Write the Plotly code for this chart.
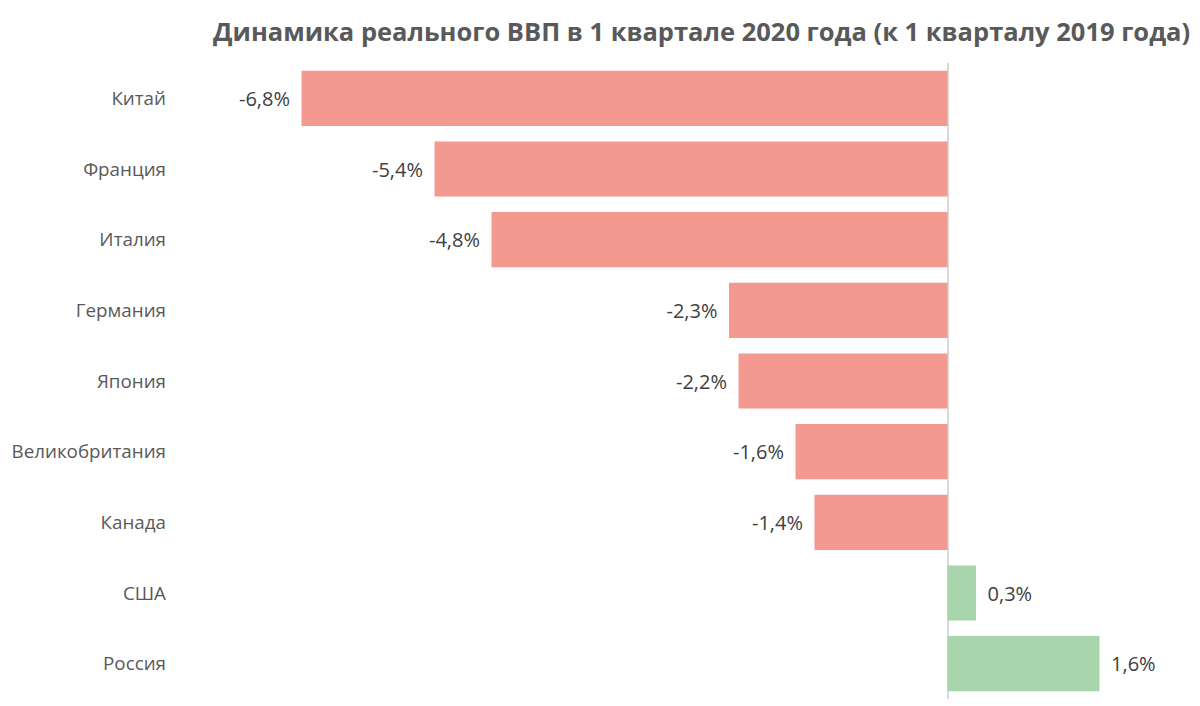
import plotly.graph_objects as go

# data, top to bottom as shown
countries = ["Китай", "Франция", "Италия", "Германия", "Япония",
             "Великобритания", "Канада", "США", "Россия"]
gdp_change = [-6.8, -5.4, -4.8, -2.3, -2.2, -1.6, -1.4, 0.3, 1.6]

TITLE = "Динамика реального ВВП в 1 квартале 2020 года (к 1 кварталу 2019 года)"
RED = "#F4998F"
GREEN = "#A8D5AB"
TEXT = "#404040"
PAD = "\u00a0\u2009"

colors = [RED if v < 0 else GREEN for v in gdp_change]
labels = []
for v in gdp_change:
    s = f"{v:.1f}%".replace(".", ",")
    labels.append(s + PAD if v < 0 else PAD + s)

fig = go.Figure()
fig.add_trace(go.Bar(
    x=gdp_change, y=countries,
    orientation="h",
    marker=dict(color=colors, line=dict(width=0)),
    text=labels,
    textposition="outside",
    textfont=dict(family="Open Sans", size=20, color=TEXT),
    cliponaxis=False,
    hoverinfo="skip",
))

# page is drawn with an 8px body offset, so margins are shifted accordingly
fig.update_layout(
    width=1200, height=706,
    paper_bgcolor="white", plot_bgcolor="white",
    title=dict(
        text=f"<b>{TITLE}</b>", x=0.578, xanchor="center", y=0.966, yanchor="middle",
        font=dict(family="Open Sans", size=25.5, color="#595959"),
    ),
    margin=dict(l=170, r=23, t=55, b=15),
    bargap=0.22,
    showlegend=False,
    font=dict(family="Open Sans", color=TEXT),
)
fig.update_xaxes(
    range=[-8.1, 2.5], showgrid=False, showticklabels=False,
    zeroline=True, zerolinecolor="#D9D9D9", zerolinewidth=2,
)
fig.update_yaxes(
    autorange="reversed", showgrid=False, zeroline=False,
    ticks="", ticklabelstandoff=11, automargin=False,
    tickfont=dict(family="Open Sans", size=18.8, color="#595959"),
)

fig.write_html("out.html")
